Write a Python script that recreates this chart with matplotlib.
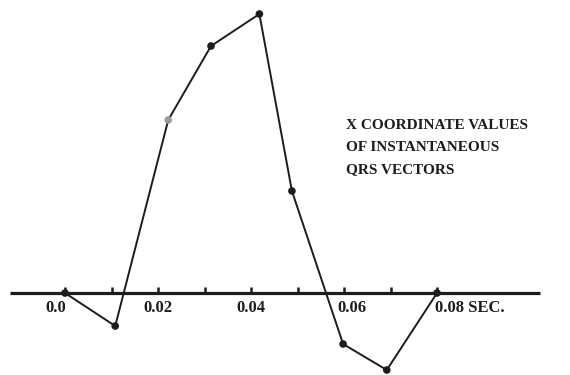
import numpy as np
import matplotlib.pyplot as plt

# instantaneous QRS vector, x component (time in sec, amplitude in arbitrary units)
times = [0.0, 0.0108, 0.0222, 0.0314, 0.0418, 0.0488, 0.0598, 0.0692, 0.080]
x_values = [0, -33, 173, 247, 279, 102, -51, -77, 0]
tick_times = [0.0, 0.01, 0.02, 0.03, 0.04, 0.05, 0.06, 0.07, 0.08]
tick_labels = ['0.0', '0.02', '0.04', '0.06', '0.08 SEC.']
label_times = [0.0, 0.02, 0.04, 0.06, 0.08]
label_shift = [-0.0020, 0.0, 0.0, 0.0018, -0.0004]

ink = '#1c1c1c'
plt.rcParams['font.family'] = ['Liberation Serif', 'DejaVu Serif']

fig = plt.figure(figsize=(5.7, 3.75), dpi=100)
ax = fig.add_axes([0, 0, 1, 1])
ax.set_xlim(-0.01398, 0.1086)
ax.set_ylim(-82, 293)
ax.axis('off')

# time axis with small upward ticks
ax.plot([-0.0118, 0.1022], [0, 0], color=ink, lw=2.3, solid_capstyle='butt', zorder=2)
ax.vlines(tick_times, 0, 6, color=ink, lw=1.8, zorder=2)
for t, lab, dx in zip(label_times, tick_labels, label_shift):
    ha = 'left' if lab.endswith('SEC.') else 'center'
    ax.text(t + dx, -7, lab, ha=ha, va='top', fontsize=12,
            fontweight='bold', color=ink)

# the vector curve
ax.plot(times, x_values, color=ink, lw=1.4, zorder=3)
colors = [ink] * len(times)
colors[2] = '#9a9a9a'
ax.scatter(times, x_values, s=20, c=colors, edgecolors=colors, zorder=4)

ax.text(0.0604, 174, 'X COORDINATE VALUES\nOF INSTANTANEOUS\nQRS VECTORS',
        ha='left', va='top', fontsize=11, fontweight='bold', color=ink,
        linespacing=1.9)

fig.savefig('out.png', dpi=100)
